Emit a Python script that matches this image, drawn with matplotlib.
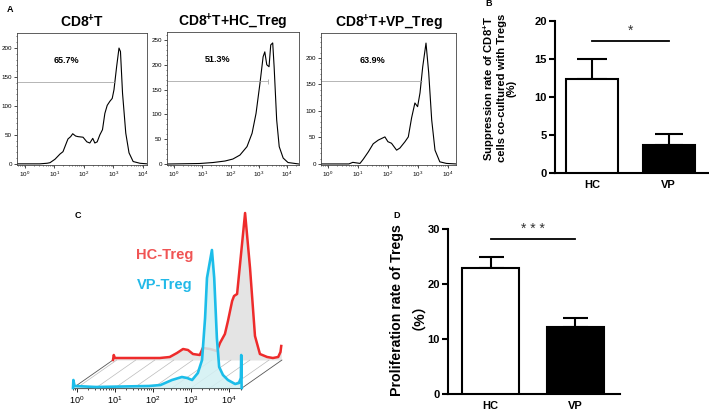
import numpy as np
import matplotlib.pyplot as plt
from matplotlib.ticker import MultipleLocator, LogLocator, NullFormatter
from matplotlib.transforms import ScaledTranslation
from matplotlib.patches import ConnectionPatch

plt.rcParams['font.family'] = ['Liberation Sans', 'Noto Sans CJK SC', 'DejaVu Sans']
plt.rcParams['mathtext.fontset'] = 'custom'
plt.rcParams['mathtext.rm'] = 'Liberation Sans'
plt.rcParams['mathtext.bf'] = 'Liberation Sans:bold'

# ---- A: proliferation histograms (x = log10 intensity, y = count)
cd8_dec = [-0.27, 0.5, 0.75, 0.85, 1.02, 1.19, 1.29, 1.42, 1.46, 1.55, 1.62, 1.72, 1.8, 1.97,
           2.1, 2.2, 2.3, 2.37, 2.45, 2.54, 2.63, 2.71, 2.79, 2.88, 2.96, 3.02, 3.11, 3.19,
           3.24, 3.31, 3.42, 3.53, 3.67, 3.9, 4.14]
cd8_cnt = [0, 0, 1, 2, 8, 17, 21, 38, 43, 47, 52, 48, 47, 46,
           38, 36, 44, 36, 38, 50, 59, 87, 101, 108, 113, 128, 168, 200,
           194, 122, 53, 19, 4, 1, 0]

hc_dec = [-0.25, 0.9, 1.38, 1.8, 2.08, 2.33, 2.58, 2.76, 2.9, 3.04, 3.15, 3.21, 3.28, 3.36,
          3.42, 3.49, 3.54, 3.63, 3.72, 3.86, 4.03, 4.42]
hc_cnt = [0, 1, 3, 6, 10, 18, 35, 62, 102, 163, 216, 226, 200, 196,
          240, 244, 196, 89, 35, 12, 3, 0]

vp_dec = [-0.23, 0.7, 0.83, 0.95, 1.07, 1.18, 1.35, 1.51, 1.68, 1.9, 2.0, 2.12, 2.29, 2.4,
          2.57, 2.68, 2.79, 2.9, 2.99, 3.07, 3.16, 3.27, 3.36, 3.46, 3.57, 3.73, 3.95, 4.27]
vp_cnt = [0, 0, 3, 2, 1, 9, 23, 38, 45, 51, 42, 39, 26, 30,
          42, 51, 87, 115, 108, 134, 183, 228, 172, 83, 26, 4, 1, 0]

titles = ['CD8$^{\\mathbf{+}}$T', 'CD8$^{\\mathbf{+}}$T+HC_Treg', 'CD8$^{\\mathbf{+}}$T+VP_Treg']
percents = ['65.7%', '51.3%', '63.9%']
gates = [141, 167, 157]
gate_ends = [3.05, 3.32, 3.13]

# ---- B: suppression rate
groups = ['HC', 'VP']
supp_mean = [12.4, 3.7]
supp_err = [2.55, 1.4]

# ---- C: overlaid Treg histograms (x = log10 intensity, y = relative height)
hct_dec = [-0.1, -0.08, -0.05, 0.5, 1.13, 1.39, 1.58, 1.74, 1.87, 2.0, 2.18, 2.26, 2.45, 2.63,
           2.71, 2.84, 2.92, 3.03, 3.08, 3.16, 3.29, 3.37, 3.5, 3.63, 3.76, 3.95, 4.1, 4.24,
           4.3, 4.32]
hct_h = [0, 5, 2, 2, 2, 3, 7, 11, 10, 6, 5, 12, 11, 9,
         17, 26, 39, 59, 64, 66, 116, 147, 92, 24, 6, 3, 2, 3,
         8, 14]

vpt_dec = [-0.1, -0.09, -0.06, 0.5, 1.9, 2.2, 2.5, 2.76, 2.9, 3.03, 3.18, 3.29, 3.37, 3.42,
           3.55, 3.61, 3.68, 3.74, 3.84, 3.97, 4.16, 4.26, 4.31, 4.32, 4.33]
vpt_h = [0, 8, 2, 1, 2, 3, 8, 11, 10, 8, 15, 28, 70, 110,
         138, 110, 50, 21, 13, 8, 4, 5, 10, 33, 0]

# ---- D: proliferation rate
prol_mean = [22.85, 12.2]
prol_err = [2.0, 1.55]

W, H = 709, 416
fig = plt.figure(figsize=(W / 100, H / 100), dpi=100)


def box(l, t, r, b):
    return [l / W, 1 - b / H, (r - l) / W, (b - t) / H]


def hist_panel(rect, dec, cnt, title, pct, gate, gate_end, ytop, xr):
    ax = fig.add_axes(box(*rect))
    ax.plot(10 ** np.array(dec), cnt, color='black', lw=0.8)
    ax.hlines(gate, 10 ** xr[0], 10 ** gate_end, color='#999999', lw=0.5)
    ax.set_xscale('log')
    ax.set_xlim(10 ** xr[0], 10 ** xr[1])
    ax.set_ylim(-2, ytop)
    ax.xaxis.set_major_locator(LogLocator(base=10, numticks=10))
    ax.xaxis.set_minor_locator(LogLocator(base=10, subs=np.arange(2, 10), numticks=10))
    ax.xaxis.set_minor_formatter(NullFormatter())
    ax.yaxis.set_major_locator(MultipleLocator(50))
    ax.yaxis.set_minor_locator(MultipleLocator(10))
    ax.tick_params(labelsize=4.5, length=2, width=0.5, pad=1.5)
    ax.tick_params(which='minor', length=1, width=0.4)
    for s in ax.spines.values():
        s.set_linewidth(0.6)
        s.set_color('#444444')
    ax.set_title(title, fontsize=10, fontweight='bold', pad=4)
    ax.text(0.38, 0.79, pct, transform=ax.transAxes, fontsize=6.5, fontweight='bold',
            ha='center', va='center')
    return ax


hist_panel((17, 33, 147, 165), cd8_dec, cd8_cnt, titles[0], percents[0], gates[0], gate_ends[0], 226, (-0.27, 4.14))
ax2 = hist_panel((167, 32, 299, 165), hc_dec, hc_cnt, titles[1], percents[1], gates[1], gate_ends[1], 266, (-0.25, 4.42))
ax2.vlines(10 ** gate_ends[1], gates[1] - 5, gates[1] + 5, color='#999999', lw=0.5)
hist_panel((321, 33, 456, 165), vp_dec, vp_cnt, titles[2], percents[2], gates[2], gate_ends[2], 247, (-0.23, 4.27))


def bar_panel(rect, means, errs, ylim, ystep, xr, caps, sig_y, sig_txt):
    ax = fig.add_axes(box(*rect))
    x = np.arange(len(groups))
    ax.bar(x, means, width=0.68, color=['white', 'black'], edgecolor='black', linewidth=1.5, zorder=3)
    for xi, m, e, c in zip(x, means, errs, caps):
        ax.errorbar(xi, m, yerr=[[0], [e]], color='black', elinewidth=1.5, capsize=c,
                    capthick=1.5, zorder=2)
    ax.set_xlim(*xr)
    ax.set_ylim(*ylim)
    ax.yaxis.set_major_locator(MultipleLocator(ystep))
    ax.set_xticks(x)
    ax.set_xticklabels(groups)
    for s in ['top', 'right']:
        ax.spines[s].set_visible(False)
    for s in ['left', 'bottom']:
        ax.spines[s].set_linewidth(1.5)
    ax.tick_params(axis='y', length=4, width=1.5, labelsize=8, pad=2)
    ax.tick_params(axis='x', length=0, labelsize=8, pad=5)
    for lab in ax.get_xticklabels() + ax.get_yticklabels():
        lab.set_fontweight('bold')
    ax.plot([0, 1], [sig_y, sig_y], color='black', lw=1.3, clip_on=False)
    ax.text(0.5, sig_y + 0.02 * (ylim[1] - ylim[0]), sig_txt, ha='center', va='bottom',
            fontsize=10, color='#333333')
    return ax


bar_panel((555, 21, 708, 173), supp_mean, supp_err, (0, 20), 5, (-0.48, 1.51), (11, 10), 17.4, '*')
bar_panel((448, 229, 620, 394), prol_mean, prol_err, (0, 30), 10, (-0.506, 1.53), (9, 9), 28.1, '* * *')

fig.text(499 / W, 1 - 88 / H, 'Suppression rate of CD8$^{\\mathbf{+}}$T\ncells co-cultured with Tregs\n(%)',
         rotation=90, ha='center', va='center', multialignment='center', fontsize=8.1,
         fontweight='bold', linespacing=1.0)
fig.text(404 / W, 1 - 310 / H, 'Proliferation rate of Tregs\n\uff08%\uff09', rotation=90,
         ha='center', va='center', multialignment='center', fontsize=10.2, fontweight='bold',
         linespacing=0.95)

# ---- C: pseudo-3D overlay
axc = fig.add_axes(box(73, 200, 242, 388))
axc.set_xscale('log')
axc.set_xlim(10 ** -0.1, 10 ** 4.34)
axc.set_ylim(0, 188)
back = axc.transData + ScaledTranslation(0.40, 0.28, fig.dpi_scale_trans)

hx = 10 ** np.array(hct_dec)
vx = 10 ** np.array(vpt_dec)
axc.fill_between(hx, hct_h, 0, transform=back, color='#e4e4e4', lw=0, clip_on=False, zorder=1)
axc.plot(hx, hct_h, transform=back, color='#ee2b2b', lw=1.8, clip_on=False, zorder=2)

x0, x1 = axc.get_xlim()
for d in np.arange(0, 4.5, 0.5):
    cp = ConnectionPatch((10 ** d, 0), (10 ** d, 0), coordsA=axc.transData, coordsB=back,
                         color='#bbbbbb', lw=0.5, zorder=1.5)
    axc.add_artist(cp)
for xe in (x0, x1):
    cp = ConnectionPatch((xe, 0), (xe, 0), coordsA=axc.transData, coordsB=back,
                         color='#555555', lw=0.6, zorder=1.5)
    axc.add_artist(cp)

axc.fill_between(vx, vpt_h, 0, color='#d2f0f3', alpha=0.85, lw=0, clip_on=False, zorder=3)
axc.plot(vx, vpt_h, color='#1cbde9', lw=1.9, clip_on=False, zorder=4)

for s in ['left', 'top', 'right']:
    axc.spines[s].set_visible(False)
axc.spines['bottom'].set_linewidth(0.8)
axc.set_yticks([])
axc.xaxis.set_major_locator(LogLocator(base=10, numticks=10))
axc.xaxis.set_minor_locator(LogLocator(base=10, subs=np.arange(2, 10), numticks=10))
axc.xaxis.set_minor_formatter(NullFormatter())
axc.tick_params(axis='x', labelsize=6.5, length=3, width=0.6, pad=1.5)
axc.tick_params(axis='x', which='minor', length=1.5, width=0.5)
axc.patch.set_visible(False)

fig.text(165 / W, 1 - 255 / H, 'HC-Treg', color='#f05454', fontsize=10.5, fontweight='bold',
         ha='center', va='center')
fig.text(165 / W, 1 - 285 / H, 'VP-Treg', color='#22b9e8', fontsize=10.5, fontweight='bold',
         ha='center', va='center')

# panel letters
for letter, (px, py) in zip('ABCD', [(10, 10), (489, 4), (78, 215), (397, 215)]):
    fig.text(px / W, 1 - py / H, letter, fontsize=6.5, fontweight='bold', ha='center', va='center')

fig.savefig('out.png', dpi=100)
